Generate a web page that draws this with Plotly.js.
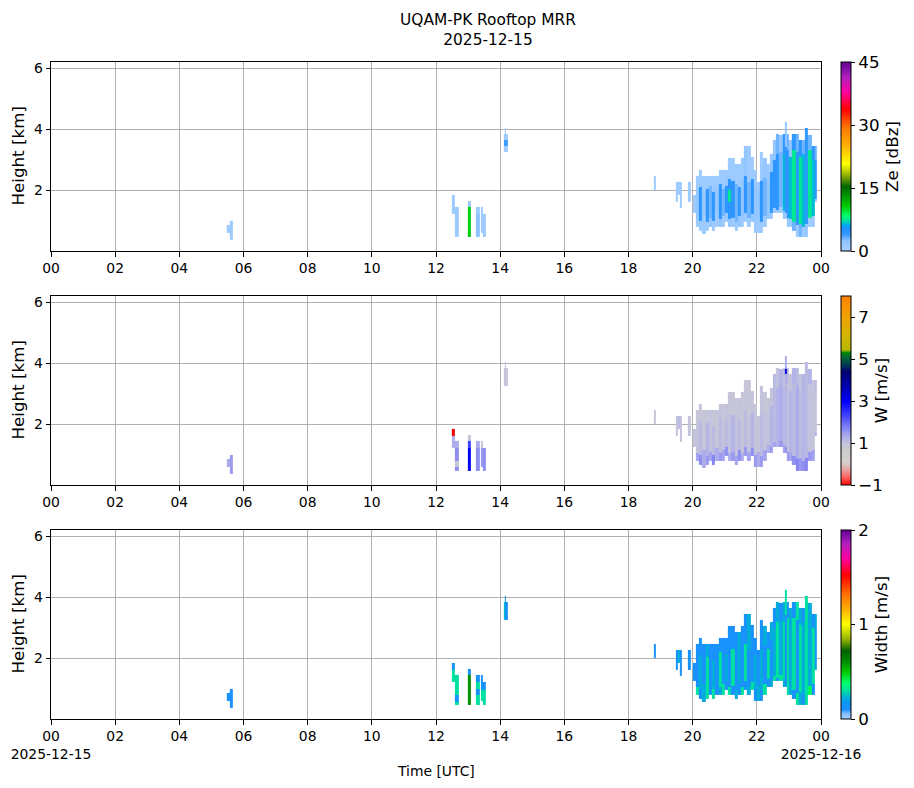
<!DOCTYPE html>
<html>
<head>
<meta charset="utf-8">
<script src="https://cdn.plot.ly/plotly-3.0.1.min.js"></script>
<style>html,body{margin:0;padding:0;background:#fff;}#chart{width:914px;height:788px;}</style>
</head>
<body>
<div id="chart"></div>
<script>
// ---------------- DATA ----------------
// Radar columns: start/end time [h UTC], echo bottom/top [km]
const colStart = [5.48, 5.58, 12.50, 12.59, 12.99, 13.24, 13.41, 13.47, 14.12, 14.15, 14.18, 18.80, 19.48, 19.55, 19.59, 19.84,
  20.0, 20.1, 20.2, 20.3, 20.4, 20.5, 20.6, 20.7, 20.8, 20.9,
  21.0, 21.1, 21.2, 21.3, 21.4, 21.5, 21.6, 21.7, 21.8, 21.9,
  22.0, 22.1, 22.2, 22.3, 22.4, 22.5, 22.6, 22.7, 22.8, 22.87,
  22.93, 23.0, 23.1, 23.2, 23.3, 23.4, 23.5, 23.6, 23.7, 23.8];
const colEnd = [5.57, 5.68, 12.58, 12.72, 13.08, 13.36, 13.47, 13.56, 14.15, 14.18, 14.24, 18.86, 19.55, 19.59, 19.65, 19.95,
  20.1, 20.2, 20.3, 20.4, 20.5, 20.6, 20.7, 20.8, 20.9, 21.0,
  21.1, 21.2, 21.3, 21.4, 21.5, 21.6, 21.7, 21.8, 21.9, 22.0,
  22.1, 22.2, 22.3, 22.4, 22.5, 22.6, 22.7, 22.8, 22.87, 22.93,
  23.0, 23.1, 23.2, 23.3, 23.4, 23.5, 23.6, 23.7, 23.8, 23.86];
const colBottom = [0.6, 0.35, 1.22, 0.43, 0.43, 0.43, 0.6, 0.43, 3.23, 3.23, 3.23, 2.0, 1.6, 1.85, 1.42, 1.62,
  1.25, 0.8, 0.64, 0.55, 0.64, 0.8, 0.64, 0.8, 0.8, 0.8,
  0.97, 0.8, 0.8, 0.64, 0.8, 0.8, 0.97, 0.8, 0.97, 0.6,
  0.6, 0.6, 0.8, 1.03, 1.03, 1.25, 1.25, 1.25, 1.03, 1.03,
  0.8, 0.8, 0.64, 0.43, 0.43, 0.43, 0.43, 0.8, 0.8, 1.6];
const colTop = [0.85, 1.0, 1.85, 1.44, 1.65, 1.44, 1.44, 1.22, 3.85, 4.03, 3.85, 2.43, 2.23, 2.23, 2.23, 2.25,
  1.85, 2.45, 2.65, 2.45, 2.45, 2.45, 2.45, 2.45, 2.63, 2.63,
  2.63, 3.03, 3.03, 2.83, 2.83, 3.03, 3.43, 3.43, 3.1, 2.67,
  2.23, 3.25, 3.03, 2.83, 3.2, 3.63, 3.85, 3.81, 3.85, 4.23,
  3.85, 3.65, 3.85, 3.85, 3.65, 3.65, 4.03, 3.81, 3.43, 3.43];
// Per-column limits of the echo core [km] (lower edge layer / core / upper edge layer)
const coreBottom = [1.2, 1.2, 1.2, 1.2, 1.2, 1.2, 1.2, 1.2, 1.2, 1.2, 1.2, 1.2, 1.2, 1.2, 1.2, 1.2,
  1.2, 1.05, 1.0, 1.15, 0.95, 1.1, 1.0, 1.2, 1.05, 1.15,
  1.25, 1.05, 1.1, 0.95, 1.15, 1.05, 1.25, 1.1, 1.2, 1.0,
  1.1, 0.95, 1.15, 1.3, 1.25, 1.4, 1.35, 1.45, 1.3, 1.25,
  1.1, 1.05, 0.95, 0.85, 0.9, 0.8, 0.9, 1.1, 1.15, 1.7];
const coreTop = [2.2, 2.2, 2.2, 2.2, 2.2, 2.2, 2.2, 2.2, 2.2, 2.2, 2.2, 2.2, 2.2, 2.2, 2.2, 2.2,
  2.2, 2.0, 2.1, 1.95, 2.05, 2.15, 1.95, 2.1, 2.2, 2.05,
  2.15, 2.35, 2.3, 2.2, 2.1, 2.3, 2.45, 2.25, 2.35, 2.1,
  1.95, 2.3, 2.4, 2.3, 2.6, 3.0, 3.2, 3.25, 3.2, 3.4,
  3.3, 3.1, 3.3, 3.25, 3.1, 3.2, 3.35, 3.3, 3.0, 3.0];

// Reflectivity Ze [dBZ] per column: lower edge, core, upper edge
const zeLow = [1, 1, 1, 1, 10.5, 2.5, 1, 1, 1, 1, 1, 1, 1, 1, 1, 1,
  1, 1, 1, 1, 1, 2, 1, 1, 2, 1,
  1, 2, 1, 1, 2, 1, 1, 1, 2, 1,
  1, 1, 1, 2, 1, 1, 1, 1, 2, 1,
  2, 1, 3, 1, 3, 1, 2, 1, 1, 1];
const zeMid = [1, 1, 1, 1, 10.5, 1, 1, 1, 1, 1, 1, 1, 1, 1, 1, 1,
  1, 2, 4.5, 2, 4.5, 3, 4.5, 2, 4.5, 3,
  4.5, 4.5, 4.5, 3, 4.5, 2, 4.5, 3, 4.5, 2,
  2, 4.5, 3, 2, 4.5, 4.5, 4.5, 3, 6.5, 4.5,
  4.5, 6.5, 7.5, 4.5, 7.5, 6.5, 4.5, 7.5, 6.5, 4.5];
const zeHigh = [1, 1, 1, 1, 10.5, 1, 1, 1, 1, 1, 1, 1, 1, 1, 1, 1,
  1, 1, 1, 1, 1, 1, 1, 1, 1, 1,
  1, 1, 1, 1, 1, 1, 2, 1, 1, 1,
  1, 1, 2, 1, 2, 2, 3, 2, 4.5, 2,
  3, 2, 4.5, 3, 4.5, 3, 4.5, 3, 4.5, 3];

// Doppler velocity W [m/s]
const wLow = [1.3, 1.5, 1.3, 1.6, 3.0, 1.6, 1.5, 1.6, 1.0, 1.0, 0.9, 0.9, 1.0, 1.1, 1.0, 1.0,
  1.0, 1.4, 1.6, 1.3, 1.5, 1.4, 1.7, 1.3, 1.5, 1.4,
  1.6, 1.3, 1.5, 1.4, 1.6, 1.3, 1.5, 1.4, 1.6, 1.5,
  1.3, 1.5, 1.4, 1.3, 1.5, 1.4, 1.3, 1.5, 1.4, 1.6,
  1.5, 1.4, 1.6, 1.7, 1.5, 1.6, 1.7, 1.5, 1.4, 1.3];
const wMid = [1.3, 1.5, 1.3, 1.3, 2.3, 1.3, 1.0, 1.6, 1.0, 1.0, 0.9, 0.9, 1.0, 1.1, 1.0, 1.0,
  1.0, 1.0, 1.1, 0.9, 1.2, 1.0, 1.1, 0.9, 1.1, 1.0,
  1.1, 1.0, 1.2, 1.0, 1.1, 0.9, 1.1, 1.0, 1.2, 1.0,
  0.9, 1.1, 1.0, 1.0, 1.2, 1.1, 1.2, 1.3, 1.1, 1.2,
  1.0, 1.2, 1.1, 1.3, 1.1, 1.2, 1.1, 1.0, 0.9, 1.0];
const wHigh = [1.3, 1.5, 1.3, 1.3, 2.3, 1.3, 1.0, 1.6, 1.0, 1.0, 0.9, 0.9, 1.0, 1.1, 1.0, 1.0,
  0.9, 0.9, 0.9, 0.9, 0.9, 1.0, 0.9, 0.9, 1.0, 0.9,
  1.0, 0.9, 0.9, 0.9, 1.0, 0.9, 0.9, 0.9, 1.0, 0.9,
  0.9, 1.0, 0.9, 0.9, 1.0, 1.1, 1.0, 1.2, 1.0, 1.3,
  1.1, 1.0, 1.2, 1.1, 1.0, 1.2, 1.1, 1.2, 1.0, 1.1];

// Spectral width [m/s]
const swLow = [0.12, 0.1, 0.3, 0.3, 0.6, 0.3, 0.3, 0.3, 0.25, 0.18, 0.12, 0.12, 0.12, 0.22, 0.12, 0.12,
  0.12, 0.3, 0.12, 0.22, 0.3, 0.12, 0.3, 0.12, 0.22, 0.3,
  0.12, 0.3, 0.12, 0.22, 0.12, 0.3, 0.12, 0.22, 0.3, 0.12,
  0.22, 0.12, 0.3, 0.12, 0.22, 0.3, 0.12, 0.3, 0.22, 0.12,
  0.3, 0.22, 0.12, 0.3, 0.22, 0.12, 0.3, 0.4, 0.12, 0.22];
const swMid = [0.12, 0.1, 0.3, 0.3, 0.6, 0.25, 0.12, 0.3, 0.25, 0.18, 0.12, 0.12, 0.12, 0.22, 0.12, 0.12,
  0.12, 0.12, 0.22, 0.12, 0.3, 0.12, 0.22, 0.12, 0.3, 0.12,
  0.22, 0.12, 0.3, 0.12, 0.22, 0.12, 0.3, 0.12, 0.12, 0.22,
  0.12, 0.22, 0.12, 0.3, 0.12, 0.22, 0.3, 0.22, 0.3, 0.12,
  0.3, 0.22, 0.3, 0.12, 0.3, 0.22, 0.3, 0.22, 0.3, 0.12];
const swHigh = [0.12, 0.1, 0.3, 0.3, 0.6, 0.25, 0.12, 0.3, 0.25, 0.18, 0.12, 0.12, 0.12, 0.22, 0.12, 0.12,
  0.12, 0.12, 0.12, 0.12, 0.22, 0.12, 0.12, 0.12, 0.12, 0.12,
  0.12, 0.12, 0.12, 0.12, 0.22, 0.12, 0.12, 0.22, 0.12, 0.12,
  0.12, 0.12, 0.22, 0.12, 0.22, 0.12, 0.22, 0.12, 0.22, 0.3,
  0.12, 0.22, 0.12, 0.3, 0.22, 0.12, 0.3, 0.22, 0.12, 0.22];

// Local patches inside columns (field, time span, height span, value)
const patchField  = ['w', 'sw', 'ze', 'sw', 'w', 'ze', 'w', 'sw', 'ze', 'sw', 'sw', 'sw', 'ze', 'w', 'ze'];
const patchStart  = [12.54, 12.50, 12.59, 12.63, 12.65, 12.99, 12.99, 12.99, 13.25, 13.24, 13.29, 13.41, 14.12, 22.87, 21.1];
const patchEnd    = [12.58, 12.58, 12.63, 12.72, 12.72, 13.08, 13.08, 13.08, 13.29, 13.36, 13.36, 13.56, 14.24, 22.93, 21.2];
const patchBottom = [1.6, 1.6, 1.0, 0.55, 0.6, 1.43, 1.43, 1.43, 0.4, 1.22, 0.8, 0.95, 3.43, 3.65, 1.6];
const patchTop    = [1.9, 1.9, 1.25, 0.8, 0.82, 1.7, 1.7, 1.7, 1.22, 1.5, 1.0, 1.5, 3.63, 3.8, 2.0];
const patchValue  = [-1, 0.12, 3, 0.12, 0.9, 1, 0.9, 0.12, 4, 0.12, 0.12, 0.12, 4, 3.2, 7.5];

// Axis tick labels
const hourTicks = [0, 2, 4, 6, 8, 10, 12, 14, 16, 18, 20, 22, 24];
const hourLabels = ['00', '02', '04', '06', '08', '10', '12', '14', '16', '18', '20', '22', '00'];
const startDate = '2025-12-15';
const endDate = '2025-12-16';

// ---------------- grid construction ----------------
const gateSize = 0.05, gateMin = 0.3, gateMax = 4.3;
const yEdges = [];
for (let h = gateMin; h <= gateMax + 1e-9; h += gateSize) yEdges.push(+h.toFixed(3));
const nRows = yEdges.length - 1;

const xEdges = [];
const gridCols = []; // index into columns, or null for gaps
for (let i = 0; i < colStart.length; i++) {
  if (xEdges.length === 0) { xEdges.push(colStart[i]); }
  else if (Math.abs(xEdges[xEdges.length - 1] - colStart[i]) > 1e-6) { xEdges.push(colStart[i]); gridCols.push(null); }
  xEdges.push(colEnd[i]);
  gridCols.push(i);
}

function buildGrid(lowArr, midArr, highArr, fieldName) {
  const z = [];
  for (let r = 0; r < nRows; r++) {
    const hc = (yEdges[r] + yEdges[r + 1]) / 2;
    const row = [];
    for (let g = 0; g < gridCols.length; g++) {
      const c = gridCols[g];
      if (c === null || hc < colBottom[c] || hc > colTop[c]) { row.push(null); continue; }
      let v = hc < coreBottom[c] ? lowArr[c] : (hc < coreTop[c] ? midArr[c] : highArr[c]);
      const tc = (colStart[c] + colEnd[c]) / 2;
      for (let p = 0; p < patchField.length; p++) {
        if (patchField[p] !== fieldName) continue;
        if (tc >= patchStart[p] && tc <= patchEnd[p] && hc >= patchBottom[p] && hc <= patchTop[p]) v = patchValue[p];
      }
      row.push(v);
    }
    z.push(row);
  }
  return z;
}

// ---------------- colour maps ----------------
const spectral = [[0,'#a6d0ff'],[0.055,'#90c4ff'],[0.085,'#3a9cff'],[0.12,'#1e90ff'],[0.14,'#00b0e8'],[0.16,'#00e0a0'],[0.185,'#00ff70'],[0.24,'#00c800'],[0.3,'#009000'],[0.34,'#006400'],[0.4,'#90b000'],[0.46,'#ffff00'],[0.56,'#ffb000'],[0.66,'#ff7000'],[0.75,'#ff0000'],[0.84,'#ff00a0'],[0.92,'#b020c0'],[1,'#600090']];
const widthScale = [[0,'#a6d0ff'],[0.03,'#80bcff'],[0.05,'#1e90ff'],[0.09,'#0a96f0'],[0.12,'#00b8d0'],[0.15,'#00e0a0'],[0.19,'#00ff70'],[0.25,'#00c800'],[0.3,'#009000'],[0.36,'#006000'],[0.42,'#90b000'],[0.5,'#ffff00'],[0.58,'#ffb000'],[0.66,'#ff7000'],[0.76,'#ff0000'],[0.85,'#ff00a0'],[0.93,'#b020c0'],[1,'#600090']];
const velScale = [[0,'#ff0000'],[0.04,'#ff6060'],[0.08,'#e8a0a0'],[0.12,'#d8d0d0'],[0.18,'#cccccc'],[0.22,'#c4c4dc'],[0.26,'#aaaaee'],[0.31,'#7c7cf4'],[0.37,'#4040ff'],[0.44,'#0000ff'],[0.52,'#0000b0'],[0.6,'#000070'],[0.64,'#004050'],[0.68,'#006a30'],[0.7,'#008800'],[0.715,'#b8b800'],[0.8,'#d8b400'],[0.9,'#f0a000'],[1,'#ff8000']];

// ---------------- layout ----------------
const W = 914, H = 788;
const mL = 51, mR = 93, mT = 62, mB = 69;
const plotH = H - mT - mB, plotW = W - mL - mR;
function py(pix) { return 1 - (pix - mT) / plotH; }
const doms = [[py(251), py(62)], [py(485), py(296)], [py(719), py(530)]];
const cbX = (841 - mL) / plotW;
const tickFont = {size: 13.9, color: '#000'};
const labFont = {size: 16.7, color: '#000'};

function cb(title, vals, txt, d) {
  return {title: {text: title, side: 'right', font: labFont}, tickvals: vals, ticktext: txt,
    x: cbX, xanchor: 'left', xpad: 0, ypad: 0, thickness: 10, len: d[1] - d[0], lenmode: 'fraction',
    y: (d[0] + d[1]) / 2, yanchor: 'middle', outlinewidth: 1, outlinecolor: '#000',
    ticks: 'outside', ticklen: 4, tickcolor: '#000', tickfont: {size: 16.7, color: '#000'}};
}

const traces = [
  {type: 'heatmap', x: xEdges, y: yEdges, z: buildGrid(zeLow, zeMid, zeHigh, 'ze'), zmin: 0, zmax: 45,
   colorscale: spectral, xaxis: 'x', yaxis: 'y', hoverongaps: false,
   colorbar: cb('Ze [dBz]', [0, 15, 30, 45], ['0', '15', '30', '45'], doms[0])},
  {type: 'heatmap', x: xEdges, y: yEdges, z: buildGrid(wLow, wMid, wHigh, 'w'), zmin: -1, zmax: 8,
   colorscale: velScale, xaxis: 'x2', yaxis: 'y2', hoverongaps: false,
   colorbar: cb('W [m/s]', [-1, 1, 3, 5, 7], ['\u22121', '1', '3', '5', '7'], doms[1])},
  {type: 'heatmap', x: xEdges, y: yEdges, z: buildGrid(swLow, swMid, swHigh, 'sw'), zmin: 0, zmax: 2,
   colorscale: widthScale, xaxis: 'x3', yaxis: 'y3', hoverongaps: false,
   colorbar: cb('Width [m/s]', [0, 1, 2], ['0', '1', '2'], doms[2])}
];

function xax(anchor, labels) {
  return {domain: [0, 1], anchor: anchor, range: [0, 24], tickvals: hourTicks, ticktext: labels,
    showgrid: true, gridcolor: '#b0b0b0', gridwidth: 1, zeroline: false, showline: true, mirror: true,
    linecolor: '#000', linewidth: 1, ticks: 'outside', ticklen: 4.5, tickcolor: '#000', tickfont: tickFont, fixedrange: true};
}
function yax(anchor, d) {
  return {domain: d, anchor: anchor, range: [0, 6.2], tickvals: [2, 4, 6], ticktext: ['2', '4', '6'],
    showgrid: true, gridcolor: '#b0b0b0', gridwidth: 1, zeroline: false, showline: true, mirror: true,
    linecolor: '#000', linewidth: 1, ticks: 'outside', ticklen: 4.5, tickcolor: '#000', tickfont: tickFont, fixedrange: true};
}
const bottomLabels = hourLabels.slice();
bottomLabels[0] = hourLabels[0] + '<br>' + startDate;
bottomLabels[bottomLabels.length - 1] = hourLabels[hourLabels.length - 1] + '<br>' + endDate;

const annotations = [{text: 'Time [UTC]', xref: 'paper', yref: 'paper', x: (436 - mL) / plotW, y: -(771 - 719) / plotH,
  xanchor: 'center', yanchor: 'middle', showarrow: false, font: {size: 13.9, color: '#000'}}];
doms.forEach(function (d) {
  annotations.push({text: 'Height [km]', xref: 'paper', yref: 'paper', x: (17 - mL) / plotW, y: (d[0] + d[1]) / 2,
    xanchor: 'center', yanchor: 'middle', textangle: -90, showarrow: false, font: labFont});
});

const layout = {
  width: W, height: H, margin: {l: mL, r: mR, t: mT, b: mB},
  paper_bgcolor: '#fff', plot_bgcolor: '#fff',
  font: {family: 'DejaVu Sans, sans-serif', color: '#000'},
  title: {text: 'UQAM-PK Rooftop MRR<br>' + startDate, x: (488 - mL) / plotW, xref: 'paper', xanchor: 'center',
          y: 1 - 25 / H, yref: 'container', yanchor: 'middle', font: {size: 15.4, color: '#000'}},
  xaxis: xax('y', hourLabels), yaxis: yax('x', doms[0]),
  xaxis2: xax('y2', hourLabels), yaxis2: yax('x2', doms[1]),
  xaxis3: xax('y3', bottomLabels), yaxis3: yax('x3', doms[2]),
  annotations: annotations,
  showlegend: false
};

Plotly.newPlot('chart', traces, layout, {displayModeBar: false, staticPlot: true});
</script>
</body>
</html>
